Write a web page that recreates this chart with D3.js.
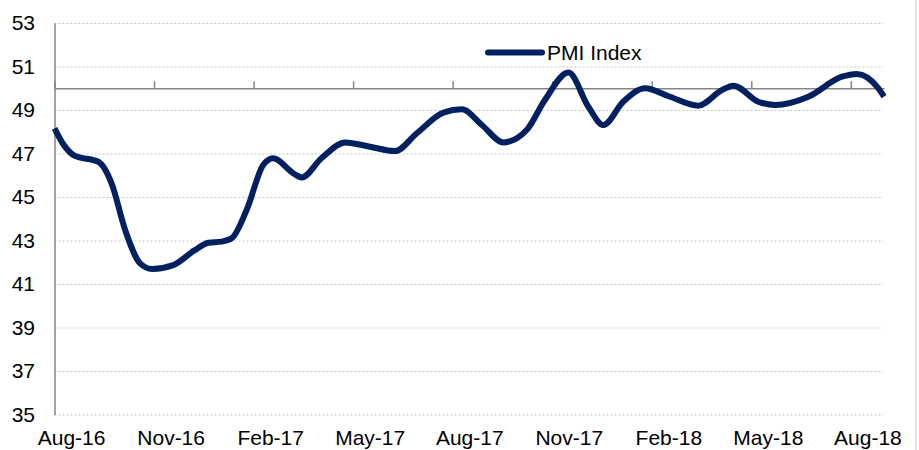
<!DOCTYPE html>
<html><head><meta charset="utf-8">
<script src="https://cdn.jsdelivr.net/npm/d3@7/dist/d3.min.js"></script>
<style>body{margin:0;background:#fff} svg{display:block} text{font-family:"Liberation Sans",Arial,sans-serif;}</style>
</head><body><svg id="chart" width="919" height="450"></svg>
<script>
const seriesName = "PMI Index";
// position in months after Aug-16
const monthPos = [0,0.3,0.6,1.32,1.72,2.13,2.58,2.94,3.58,4.23,4.64,5.04,5.34,5.79,6.29,6.59,7.2,7.45,8.05,8.76,9.51,10.26,10.92,11.72,12.28,12.88,13.53,14.23,14.78,15.49,16.09,16.54,17.14,17.8,18.55,19.4,20.12,20.46,21.21,21.72,22.72,23.73,24.18,24.83,25];
const pmiValues = [48.16,47.35,46.9,46.62,45.63,43.48,41.95,41.69,41.87,42.56,42.9,42.95,43.1,44.4,46.47,46.78,46.09,45.9,46.79,47.51,47.31,47.11,47.93,48.88,49.03,48.31,47.51,48.08,49.46,50.72,49.15,48.31,49.38,50.0,49.61,49.2,49.92,50.12,49.38,49.23,49.61,50.53,50.66,50.0,49.62];
const tickLabels = ["Aug-16","Nov-16","Feb-17","May-17","Aug-17","Nov-17","Feb-18","May-18","Aug-18"];
const tickMonths = [0,3,6,9,12,15,18,21,24];
const yTicks = [35,37,39,41,43,45,47,49,51,53];
const yCross = 50;

const svg = d3.select("#chart");
const x = d3.scaleLinear().domain([0,25]).range([54.5,884]);
const y = d3.scaleLinear().domain([35,53]).range([414.5,23]);
const data = monthPos.map((m,i)=>({m, v:pmiValues[i]}));

// right border
svg.append("line").attr("x1",916).attr("x2",916).attr("y1",0).attr("y2",450)
  .attr("stroke","#d9d9d9").attr("stroke-width",1.5);

// gridlines
const grid = svg.append("g").attr("transform",`translate(${x(0)},0)`)
  .call(d3.axisLeft(y).tickValues(yTicks).tickSize(-(x(25)-x(0)-1)).tickFormat(""));
grid.select(".domain").remove();
grid.selectAll("line").attr("stroke","#c4c4c4").attr("stroke-dasharray","2,2").attr("stroke-width",1);

// y labels + axis line
const yAx = svg.append("g").attr("transform",`translate(${x(0)},0)`)
  .call(d3.axisLeft(y).tickValues(yTicks).tickSize(0).tickSizeOuter(0).tickPadding(19.5).tickFormat(d3.format("d")));
yAx.select(".domain").attr("stroke","#858585").attr("stroke-width",1.5);
yAx.selectAll("text").attr("font-size",21).attr("fill","#000").style("font-family","'Liberation Sans',Arial,sans-serif");

// x axis at y=50 with upward ticks
const xAx = svg.append("g").attr("transform",`translate(0,${y(yCross)})`)
  .call(d3.axisTop(x).tickValues(tickMonths).tickSize(7).tickSizeOuter(0).tickFormat(""));
xAx.select(".domain").attr("stroke","#858585").attr("stroke-width",1.5);
xAx.selectAll(".tick line").attr("stroke","#858585").attr("stroke-width",1.5);

// x labels at bottom
const xLab = svg.append("g").attr("transform",`translate(0,${y(35)})`)
  .call(d3.axisBottom(x).tickValues(tickMonths.map(m=>m+0.5)).tickSize(0).tickPadding(15.6)
    .tickFormat((d,i)=>tickLabels[i]));
xLab.select(".domain").remove();
xLab.selectAll("text").attr("font-size",21).attr("fill","#000").style("font-family","'Liberation Sans',Arial,sans-serif");

// line
const lineGen = d3.line().x(d=>x(d.m)).y(d=>y(d.v)).curve(d3.curveMonotoneX);
svg.append("path").datum(data).attr("d",lineGen).attr("fill","none")
  .attr("stroke","#002060").attr("stroke-width",6).attr("stroke-linejoin","round").attr("stroke-linecap","butt");

// legend
const lg = svg.append("g");
lg.append("line").attr("x1",488).attr("x2",542).attr("y1",52.5).attr("y2",52.5)
  .attr("stroke","#002060").attr("stroke-width",6).attr("stroke-linecap","round");
lg.append("text").attr("x",547).attr("y",60).attr("font-size",21).attr("fill","#000").text(seriesName);
</script></body></html>
